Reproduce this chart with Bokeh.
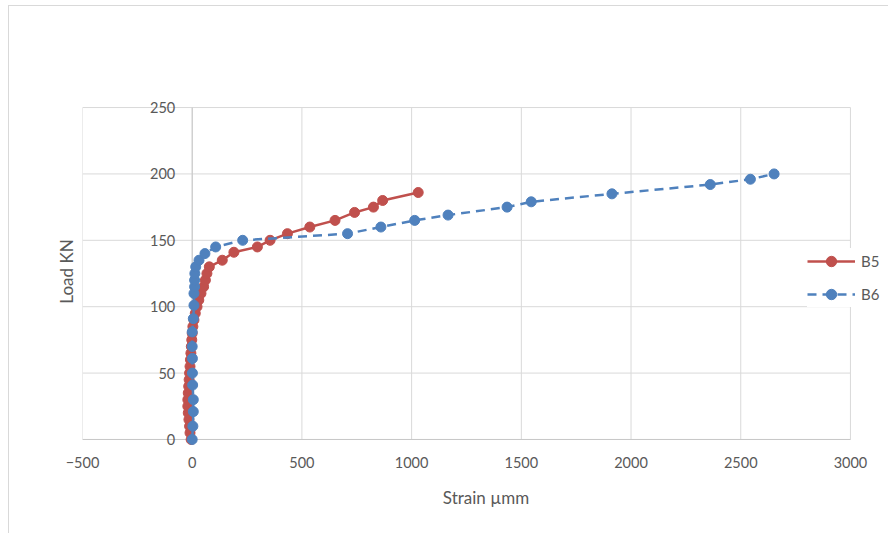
from bokeh.plotting import figure
from bokeh.models import ColumnDataSource, FixedTicker, Range1d, Legend, LegendItem
from bokeh.core.properties import value
from bokeh.embed import file_html
from bokeh.resources import INLINE

# ---- data ----
b5_load = [0, 5, 10, 15, 20, 25, 30, 35, 40, 45, 50, 55, 60, 65, 70, 75, 80, 85, 90, 95,
           100, 105, 110, 115, 120, 125, 130, 135, 141, 145, 150, 155, 160, 165, 171,
           175, 180, 186]
b5_strain = [-5, -10, -12, -15, -18, -20, -20, -18, -16, -14, -12, -10, -8, -6, -4, -2,
             0, 3, 8, 14, 22, 30, 40, 52, 60, 67, 78, 137, 190, 297, 355, 434, 536, 651,
             740, 826, 868, 1030]

b6_load = [0, 10, 21, 30, 41, 50, 61, 70, 81, 91, 101, 110, 115, 120, 125, 130, 135, 140,
           145, 150, 155, 160, 165, 169, 175, 179, 185, 192, 196, 200]
b6_strain = [0, 3, 5, 5, 2, 1, 1, 0, 0, 5, 8, 8, 11, 11, 12, 16, 31, 58, 107, 230, 708,
             860, 1014, 1166, 1435, 1545, 1913, 2361, 2544, 2652]

x_ticks = [-500, 0, 500, 1000, 1500, 2000, 2500, 3000]
y_ticks = [0, 50, 100, 150, 200, 250]
y_tick_labels = [str(t) for t in y_ticks]

RED = "#C0504D"
BLUE = "#4F81BD"
TXT = "#595959"
GRID = "#D9D9D9"
AXIS = "#C8C8C8"
FONT = "Lato"

# plot-area geometry (pixels) -> padded ranges so texts are not clipped
PX_X = 767 / (x_ticks[-1] - x_ticks[0])
PX_Y = 331 / (y_ticks[-1] - y_ticks[0])
x_end = x_ticks[0] + 806 / PX_X
y_end = y_ticks[-1] + 12 / PX_Y
y_start = y_ticks[0] - 8 / PX_Y

p = figure(width=880, height=528, output_backend="svg", toolbar_location=None,
           x_range=Range1d(x_ticks[0], x_end), y_range=Range1d(y_start, y_end))
p.margin = (5, 0, 0, 8)
p.styles = {"border-left": "1px solid #D9D9D9", "border-top": "1px solid #D9D9D9"}
p.min_border_left = 73
p.min_border_right = 0
p.min_border_top = 89
p.min_border_bottom = 87
p.outline_line_color = None
p.background_fill_color = "white"
p.border_fill_color = "white"
p.xgrid.visible = False
p.ygrid.visible = False

# grid lines limited to the plot area
xmin, xmax = x_ticks[0], x_ticks[-1]
ymin, ymax = y_ticks[0], y_ticks[-1]
p.segment(x0=[xmin] * len(y_ticks), x1=[xmax] * len(y_ticks), y0=y_ticks, y1=y_ticks,
          line_color=GRID, line_width=1)
p.segment(x0=x_ticks, x1=x_ticks, y0=[ymin] * len(x_ticks), y1=[ymax] * len(x_ticks),
          line_color=GRID, line_width=1)
# axis lines (x axis at y=0, y axis at x=0)
p.segment(x0=[xmin, 0], x1=[xmax, 0], y0=[0, ymin], y1=[0, ymax],
          line_color=AXIS, line_width=1)

# x axis
xa = p.xaxis[0]
xa.ticker = FixedTicker(ticks=x_ticks)
xa.axis_line_color = None
xa.major_tick_line_color = None
xa.minor_tick_line_color = None
xa.major_label_text_font = FONT
xa.major_label_text_font_size = "14.5px"
xa.major_label_text_color = TXT
xa.major_label_standoff = 3
xa.axis_label = "Strain µmm"
xa.axis_label_text_font = FONT
xa.axis_label_text_font_size = "17px"
xa.axis_label_text_font_style = "normal"
xa.axis_label_text_color = TXT
xa.axis_label_standoff = 16

# y axis (title only; tick labels drawn at x=0 like Excel)
ya = p.yaxis[0]
ya.ticker = FixedTicker(ticks=y_ticks)
ya.axis_line_color = None
ya.major_tick_line_color = None
ya.minor_tick_line_color = None
ya.major_label_text_font_size = "0px"
ya.major_label_text_color = None
ya.axis_label = "Load KN"
ya.axis_label_text_font = FONT
ya.axis_label_text_font_size = "17px"
ya.axis_label_text_font_style = "normal"
ya.axis_label_text_color = TXT
ya.axis_label_standoff = 0

ysrc = ColumnDataSource(dict(x=[0] * len(y_ticks), y=y_ticks, t=y_tick_labels))
p.text(x="x", y="y", text="t", source=ysrc, x_offset=-17, text_align="right",
       text_baseline="middle", text_font=value(FONT), text_font_size="14.5px",
       text_color=TXT)

s5 = ColumnDataSource(dict(x=b5_strain, y=b5_load))
s6 = ColumnDataSource(dict(x=b6_strain, y=b6_load))

l5 = p.line("x", "y", source=s5, line_color=RED, line_width=2.5)
m5 = p.scatter("x", "y", source=s5, size=10, marker="circle", fill_color=RED,
               line_color=RED)
l6 = p.line("x", "y", source=s6, line_color=BLUE, line_width=2.5, line_dash="9 6")
m6 = p.scatter("x", "y", source=s6, size=10, marker="circle", fill_color=BLUE,
               line_color=BLUE)

legend = Legend(items=[LegendItem(label="B5", renderers=[l5, m5]),
                       LegendItem(label="B6", renderers=[l6, m6])],
                location=(725, 140), orientation="vertical")
legend.glyph_width = 48
legend.glyph_height = 26
legend.spacing = 7
legend.padding = 5
legend.margin = 0
legend.label_standoff = 6
legend.border_line_color = None
legend.background_fill_color = "white"
legend.background_fill_alpha = 1.0
legend.label_text_font = FONT
legend.label_text_font_size = "15px"
legend.label_text_color = TXT
p.add_layout(legend, "center")

open("out.html", "w").write(file_html(p, INLINE))
